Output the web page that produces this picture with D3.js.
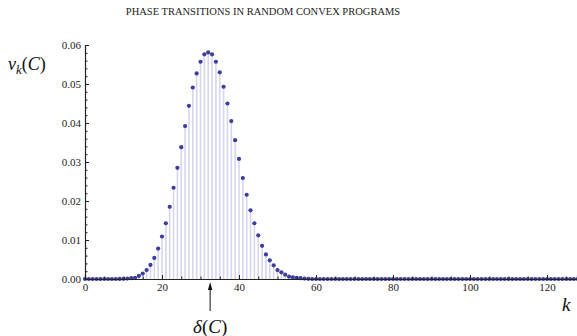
<!DOCTYPE html>
<html>
<head>
<meta charset="utf-8">
<script src="https://cdn.jsdelivr.net/npm/d3@7"></script>
<style>
  body { margin: 0; background: #fff; }
  svg { display: block; }
  .axis text { font-family: "Liberation Serif", serif; font-size: 11px; fill: #222; }
  .axis path, .axis line { stroke: #222; }
</style>
</head>
<body>
<svg id="chart" width="577" height="336"></svg>
<script>
// intrinsic volumes v_k(C), k = 0, 1, 2, ...
const values = [
  0, 0, 0, 0, 0, 0, 0, 0, 0, 0.00002,
  0.00005, 0.0001, 0.0002, 0.0003, 0.0008, 0.0014, 0.0023, 0.0036, 0.0054, 0.0078,
  0.0109, 0.0143, 0.0185, 0.0234, 0.0285, 0.0338, 0.0392, 0.0444, 0.0491, 0.0527,
  0.0557, 0.0576, 0.0581, 0.0576, 0.0557, 0.0530, 0.0493, 0.0450, 0.0405, 0.0356,
  0.0308, 0.0259, 0.0216, 0.0176, 0.0143, 0.0112, 0.0085, 0.0063, 0.0048, 0.0035,
  0.0023, 0.0017, 0.0011, 0.0006, 0.0004, 0.0003, 0.0002, 0.0001, 0.00005, 0,
  0, 0, 0, 0, 0, 0, 0, 0, 0, 0,
  0, 0, 0, 0, 0, 0, 0, 0, 0, 0,
  0, 0, 0, 0, 0, 0, 0, 0, 0, 0,
  0, 0, 0, 0, 0, 0, 0, 0, 0, 0,
  0, 0, 0, 0, 0, 0, 0, 0, 0, 0,
  0, 0, 0, 0, 0, 0, 0, 0, 0, 0,
  0, 0, 0, 0, 0, 0, 0, 0, 0
];
const xMajor = [0, 20, 40, 60, 80, 100, 120];
const xMinor = [5, 10, 15, 25, 30, 35, 45, 50, 55, 65, 70, 75, 85, 90, 95, 105, 110, 115, 125];
const yMajor = [0, 0.01, 0.02, 0.03, 0.04, 0.05, 0.06];
const yMinor = [0.002, 0.004, 0.006, 0.008, 0.012, 0.014, 0.016, 0.018, 0.022, 0.024, 0.026, 0.028,
  0.032, 0.034, 0.036, 0.038, 0.042, 0.044, 0.046, 0.048, 0.052, 0.054, 0.056, 0.058];
const statDim = 32.5;
const title = 'PHASE TRANSITIONS IN RANDOM CONVEX PROGRAMS';

const svg = d3.select('#chart'),
  W = +svg.attr('width');

const x = d3.scaleLinear().domain([0, 120]).range([85, 547]);
const xAxisScale = x.copy().domain([0, x.invert(W)]).range([85, W]);
const y = d3.scaleLinear().domain([0, 0.06]).range([279, 45]);

svg.append('text')
  .attr('x', 263).attr('y', 15)
  .attr('text-anchor', 'middle')
  .style('font-family', '"Liberation Serif", serif')
  .style('font-size', '10.5px')
  .attr('fill', '#222')
  .text(title);

const data = values.map(function(v, k) { return {k: k, v: v}; });

const plot = svg.append('g');

// stems
plot.append('g')
  .selectAll('line')
  .data(data)
  .enter().append('line')
  .attr('x1', function(d) { return x(d.k); })
  .attr('x2', function(d) { return x(d.k); })
  .attr('y1', y(0))
  .attr('y2', function(d) { return y(d.v); })
  .attr('stroke', '#d6d6ee')
  .attr('stroke-width', 1.6);

// x axis
svg.append('g')
  .attr('class', 'axis')
  .attr('transform', 'translate(0,' + y(0) + ')')
  .call(d3.axisBottom(xAxisScale).tickValues(xMajor).tickSize(-4).tickPadding(4).tickFormat(d3.format('d')));

svg.append('g')
  .attr('class', 'axis')
  .attr('transform', 'translate(0,' + y(0) + ')')
  .call(d3.axisBottom(xAxisScale).tickValues(xMinor).tickSize(-2.5).tickFormat(''))
  .select('.domain').remove();

// y axis
svg.append('g')
  .attr('class', 'axis')
  .attr('transform', 'translate(' + x(0) + ',0)')
  .call(d3.axisLeft(y).tickValues(yMajor).tickSize(-4).tickPadding(4).tickFormat(d3.format('.2f')));

svg.append('g')
  .attr('class', 'axis')
  .attr('transform', 'translate(' + x(0) + ',0)')
  .call(d3.axisLeft(y).tickValues(yMinor).tickSize(-2.5).tickFormat(''))
  .select('.domain').remove();

svg.selectAll('.axis .domain').attr('stroke-width', 1.2);

// points
plot.append('g')
  .selectAll('circle')
  .data(data)
  .enter().append('circle')
  .attr('cx', function(d) { return x(d.k); })
  .attr('cy', function(d) { return y(d.v); })
  .attr('r', 2.1)
  .attr('fill', '#3d3d9e');

// axis labels
const yl = svg.append('text')
  .attr('x', 8).attr('y', 70)
  .style('font-family', '"Liberation Serif", serif')
  .style('font-size', '18px')
  .attr('fill', '#111');
yl.append('tspan').style('font-style', 'italic').text('\u03bd');
yl.append('tspan').style('font-style', 'italic').style('font-size', '13px').attr('dy', 4).text('k');
yl.append('tspan').attr('dy', -4).text('(');
yl.append('tspan').style('font-style', 'italic').text('C');
yl.append('tspan').text(')');

svg.append('text')
  .attr('x', 562).attr('y', 311)
  .style('font-family', '"Liberation Serif", serif')
  .style('font-size', '19px')
  .style('font-style', 'italic')
  .attr('fill', '#111')
  .text('k');

// statistical dimension arrow
const ax = x(statDim);
svg.append('line')
  .attr('x1', ax).attr('x2', ax)
  .attr('y1', 311).attr('y2', 286)
  .attr('stroke', '#111').attr('stroke-width', 1);
svg.append('path')
  .attr('d', d3.line()([[ax, 282], [ax - 2.2, 290], [ax + 2.2, 290]]))
  .attr('fill', '#111');

const dl = svg.append('text')
  .attr('x', ax).attr('y', 333)
  .attr('text-anchor', 'middle')
  .style('font-family', '"Liberation Serif", serif')
  .style('font-size', '19px')
  .attr('fill', '#111');
dl.append('tspan').style('font-style', 'italic').text('\u03b4');
dl.append('tspan').text('(');
dl.append('tspan').style('font-style', 'italic').text('C');
dl.append('tspan').text(')');
</script>
</body>
</html>
